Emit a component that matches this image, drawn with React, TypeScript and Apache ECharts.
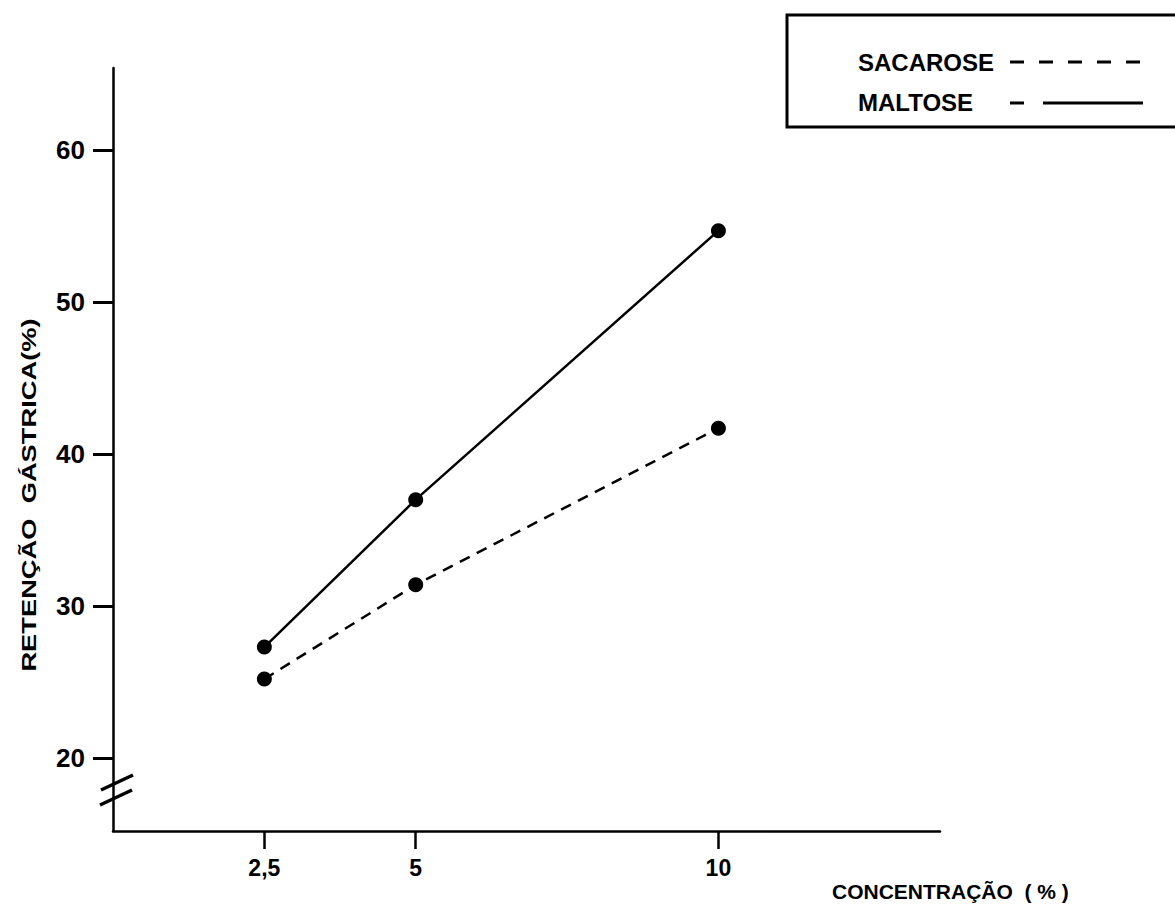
import React, { useEffect, useRef } from "react";
import * as echarts from "echarts";

const xValues = [2.5, 5, 10];
const xTickLabels = ["2,5", "5", "10"];
const yTickValues = [20, 30, 40, 50, 60];
const maltose = [27.3, 37.0, 54.7];
const sacarose = [25.2, 31.4, 41.7];
const seriesNames = ["SACAROSE", "MALTOSE"];
const yTitle = "RETENÇÃO  GÁSTRICA(%)";
const xTitle = "CONCENTRAÇÃO  ( % )";

const FONT = "'Liberation Sans', Arial, Helvetica, sans-serif";

export default function App() {
  const ref = useRef<HTMLDivElement>(null);
  useEffect(() => {
    if (!ref.current) return;
    const chart = echarts.init(ref.current, undefined, { renderer: "svg" });
    const lineStyleBase = { color: "#000", width: 2.5 };
    chart.setOption({
      animation: false,
      backgroundColor: "#fff",
      grid: { left: 113, top: 68, right: 235, bottom: 91, containLabel: false },
      xAxis: {
        type: "value",
        min: 0,
        max: 13.66,
        splitLine: { show: false },
        axisLine: { show: true, lineStyle: { color: "#000", width: 2.5 } },
        axisTick: {
          show: true,
          customValues: xValues,
          length: 18,
          lineStyle: { color: "#000", width: 2.5 },
        },
        axisLabel: {
          customValues: xValues,
          margin: 25,
          color: "#000",
          fontFamily: FONT,
          fontWeight: "bold",
          fontSize: 23,
          formatter: (v: number) => {
            const i = xValues.indexOf(v);
            return i >= 0 ? xTickLabels[i] : "";
          },
        },
      },
      yAxis: {
        type: "value",
        min: 15.2,
        max: 65.4,
        splitLine: { show: false },
        axisLine: { show: true, lineStyle: { color: "#000", width: 2.5 } },
        axisTick: {
          show: true,
          customValues: yTickValues,
          length: 20,
          lineStyle: { color: "#000", width: 3 },
        },
        axisLabel: {
          customValues: yTickValues,
          margin: 28,
          color: "#000",
          fontFamily: FONT,
          fontWeight: "bold",
          fontSize: 26,
        },
      },
      series: [
        {
          name: seriesNames[0],
          type: "line",
          data: xValues.map((x, i) => [x, sacarose[i]]),
          symbol: "circle",
          symbolSize: 15,
          itemStyle: { color: "#000" },
          lineStyle: { ...lineStyleBase, type: [11, 8] },
        },
        {
          name: seriesNames[1],
          type: "line",
          data: xValues.map((x, i) => [x, maltose[i]]),
          symbol: "circle",
          symbolSize: 15,
          itemStyle: { color: "#000" },
          lineStyle: { ...lineStyleBase, type: "solid" },
        },
      ],
      graphic: [
        // axis break mark
        {
          type: "line",
          shape: { x1: 101, y1: 790, x2: 133, y2: 775 },
          style: { stroke: "#000", lineWidth: 3.5 },
        },
        {
          type: "line",
          shape: { x1: 100, y1: 805, x2: 132, y2: 790 },
          style: { stroke: "#000", lineWidth: 3.5 },
        },
        // titles
        {
          type: "text",
          x: 29,
          y: 495,
          rotation: Math.PI / 2,
          scaleX: 1.3,
          style: {
            text: yTitle,
            fill: "#000",
            font: `bold 21px ${FONT}`,
            textAlign: "center",
            textVerticalAlign: "middle",
          },
        },
        {
          type: "text",
          x: 832,
          y: 891,
          style: {
            text: xTitle,
            fill: "#000",
            font: `bold 21px ${FONT}`,
            textAlign: "left",
            textVerticalAlign: "middle",
          },
        },
        // legend box
        {
          type: "rect",
          shape: { x: 787, y: 15, width: 420, height: 112 },
          style: { fill: "#fff", stroke: "#000", lineWidth: 3 },
          z: 10,
        },
        {
          type: "text",
          x: 858,
          y: 62,
          z: 11,
          style: {
            text: seriesNames[0],
            fill: "#000",
            font: `bold 24px ${FONT}`,
            textAlign: "left",
            textVerticalAlign: "middle",
          },
        },
        {
          type: "text",
          x: 858,
          y: 102,
          z: 11,
          style: {
            text: seriesNames[1],
            fill: "#000",
            font: `bold 24px ${FONT}`,
            textAlign: "left",
            textVerticalAlign: "middle",
          },
        },
        {
          type: "line",
          z: 11,
          shape: { x1: 1010, y1: 62, x2: 1143, y2: 62 },
          style: { stroke: "#000", lineWidth: 3, lineDash: [14, 15] },
        },
        {
          type: "line",
          z: 11,
          shape: { x1: 1010, y1: 103, x2: 1024, y2: 103 },
          style: { stroke: "#000", lineWidth: 3 },
        },
        {
          type: "line",
          z: 11,
          shape: { x1: 1043, y1: 103, x2: 1143, y2: 103 },
          style: { stroke: "#000", lineWidth: 3 },
        },
      ],
    });
    return () => chart.dispose();
  }, []);
  return (
    <div
      ref={ref}
      style={{ position: "absolute", left: 0, top: 0, width: 1175, height: 922 }}
    />
  );
}
